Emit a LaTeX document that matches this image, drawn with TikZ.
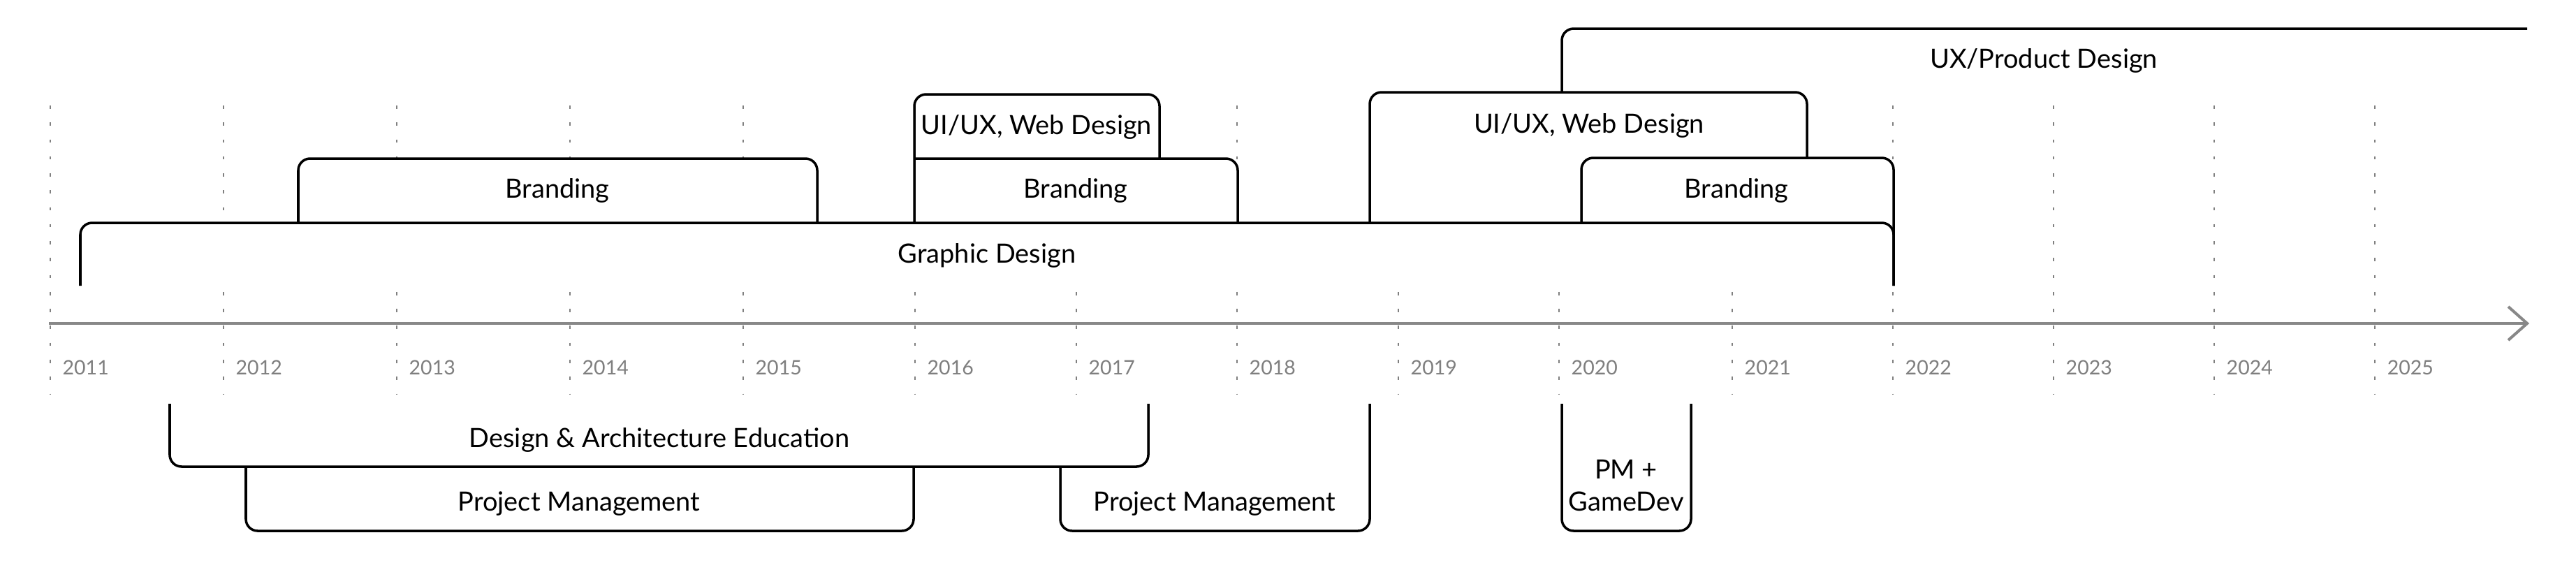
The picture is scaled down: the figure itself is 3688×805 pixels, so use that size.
\documentclass[tikz,border=0pt]{standalone}
\usepackage{fontspec}
\setmainfont{Lato}
\definecolor{gridgray}{HTML}{808080}
\definecolor{axisgray}{HTML}{888888}
\definecolor{yeargray}{HTML}{7F7F7F}
\begin{document}
\begin{tikzpicture}[x=0.01cm,y=-0.01cm,
  tabline/.style={draw=black,line width=1pt,rounded corners=4.8pt},
  tabfill/.style={fill=white,draw=none,rounded corners=4.8pt},
  gridline/.style={draw=gridgray,line width=0.65pt,dash pattern=on 1.3pt off 5.6pt},
  yearlbl/.style={anchor=base west,inner sep=0pt,text=yeargray,font=\fontsize{8.1pt}{10pt}\selectfont},
  lbl/.style={anchor=base,inner sep=0pt,font=\fontsize{10.8pt}{13pt}\selectfont}]
\fill[white] (0,0) rectangle (3688,805);
\useasboundingbox (0,0) rectangle (3688,805);
% grid lines and year labels
\foreach \gx/\yr in {72/2011,320/2012,568/2013,816/2014,1064/2015,1310/2016,1541/2017,1771/2018,2002/2019,2232/2020,2480/2021,2710/2022,2940/2023,3170/2024,3400/2025}{
  \draw[gridline] (\gx,151) -- (\gx,565);
  \node[yearlbl] (y\yr) at (\gx+17,536) {\yr};
}
% axis
\coordinate (axs) at (70,463);
\coordinate (axe) at (3618,463);
\coordinate (axu) at (3591,439);
\coordinate (axd) at (3591,487);
\draw[axisgray,line width=1.15pt] (axs) -- (axe);
\draw[axisgray,line width=1.15pt,line join=miter] (axu) -- (axe) -- (axd);
% fills of upper tabs
\path[tabfill] (115,409) -- (115,319) -- (2711,319) -- (2711,409) -- cycle;
\path[tabfill] (427,319) -- (427,227) -- (1170,227) -- (1170,319) -- cycle;
\path[tabfill] (1309,319) -- (1309,135) -- (1660,135) -- (1660,227) -- (1772,227) -- (1772,319) -- cycle;
\path[tabfill] (1961,319) -- (1961,132) -- (2587,132) -- (2587,319) -- cycle;
\path[tabfill] (2264,319) -- (2264,226) -- (2711,226) -- (2711,409) -- cycle;
\path[tabfill] (2236,132) -- (2236,41) -- (3618,41) -- (3618,132) -- cycle;
% strokes of upper tabs
\draw[tabline] (115,409) -- (115,319) -- (2711,319) -- (2711,409);
\draw[tabline] (427,319) -- (427,227) -- (1170,227) -- (1170,319);
\draw[tabline] (1309,319) -- (1309,135) -- (1660,135) -- (1660,227);
\draw[tabline] (1309,227) -- (1772,227) -- (1772,319);
\draw[tabline] (1961,319) -- (1961,132) -- (2587,132) -- (2587,226);
\draw[tabline] (2264,319) -- (2264,226) -- (2711,226) -- (2711,409);
\draw[tabline] (2236,132) -- (2236,41) -- (3618,41);
% lower tabs
\draw[tabline] (243,578) -- (243,668) -- (1644,668) -- (1644,578);
\draw[tabline] (352,668) -- (352,760) -- (1308,760) -- (1308,668);
\draw[tabline] (1518,668) -- (1518,760) -- (1961,760) -- (1961,578);
\draw[tabline] (2236,578) -- (2236,760) -- (2421,760) -- (2421,578);
% labels
\node[lbl] (ux) at (2926,97) {UX/Product Design};
\node[lbl] (web1) at (1484,192) {UI/UX, Web Design};
\node[lbl] (web2) at (2275,190) {UI/UX, Web Design};
\node[lbl] (br1) at (798,283) {Branding};
\node[lbl] (br2) at (1540,283) {Branding};
\node[lbl] (br3) at (2486,283) {Branding};
\node[lbl] (gd) at (1413,376) {Graphic Design};
\node[lbl] (dae) at (944,640) {Design \& Architecture Education};
\node[lbl] (pm1) at (829,731) {Project Management};
\node[lbl] (pm2) at (1739,731) {Project Management};
\node[lbl] (pmg1) at (2328,685) {PM +};
\node[lbl] (pmg2) at (2328,731) {GameDev};
\end{tikzpicture}
\end{document}
